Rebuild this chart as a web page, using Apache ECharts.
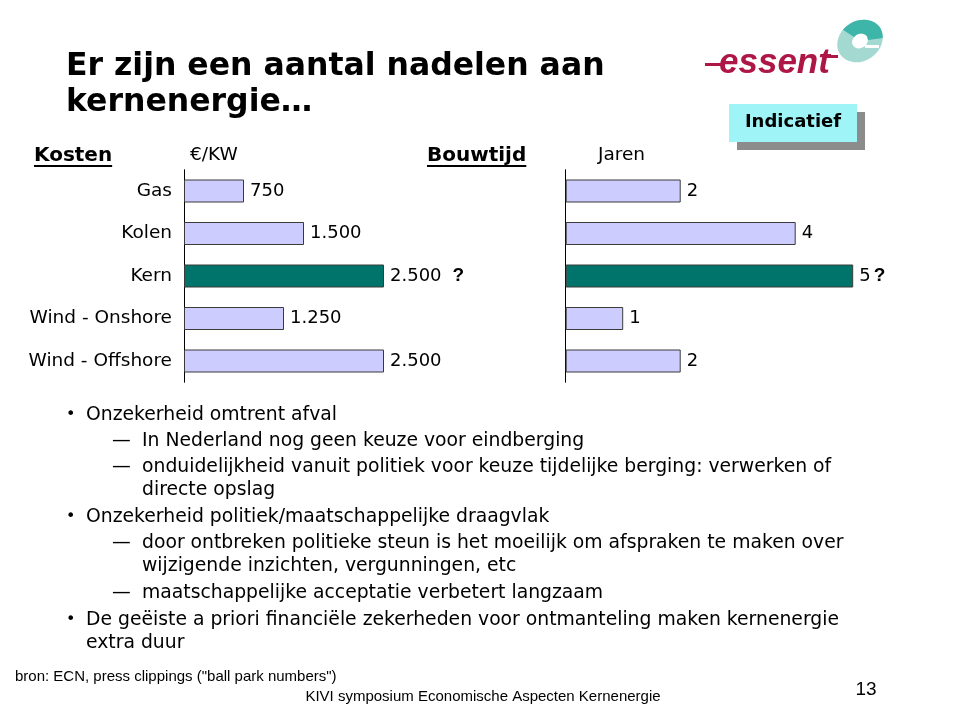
<!DOCTYPE html>
<html>
<head>
<meta charset="utf-8">
<script src="https://cdn.jsdelivr.net/npm/echarts@6/dist/echarts.min.js"></script>
<style>
html,body{margin:0;padding:0;background:#fff;}
#chart{width:960px;height:722px;}
</style>
</head>
<body>
<div id="chart"></div>
<script>
// ---- data ----
var categories = ['Gas', 'Kolen', 'Kern', 'Wind - Onshore', 'Wind - Offshore'];
var costValues = [750, 1500, 2500, 1250, 2500];      // €/KW
var buildYears = [2, 4, 5, 1, 2];                    // Jaren
var uncertain = [false, false, true, false, false];  // shown with "?"
var titleLines = ['Er zijn een aantal nadelen aan', 'kernenergie…'];
var costHeader = 'Kosten', costUnit = '€/KW';
var timeHeader = 'Bouwtijd', timeUnit = 'Jaren';
var badgeText = 'Indicatief';
var bodyLines = [
  ['bullet', 'Onzekerheid omtrent afval'],
  ['dash', 'In Nederland nog geen keuze voor eindberging'],
  ['dash', 'onduidelijkheid vanuit politiek voor keuze tijdelijke berging: verwerken of'],
  ['dash-cont', 'directe opslag'],
  ['bullet', 'Onzekerheid politiek/maatschappelijke draagvlak'],
  ['dash', 'door ontbreken politieke steun is het moeilijk om afspraken te maken over'],
  ['dash-cont', 'wijzigende inzichten, vergunningen, etc'],
  ['dash', 'maatschappelijke acceptatie verbetert langzaam'],
  ['bullet', 'De geëiste a priori financiële zekerheden voor ontmanteling maken kernenergie'],
  ['bullet-cont', 'extra duur']
];
var sourceText = 'bron: ECN, press clippings ("ball park numbers")';
var footerText = 'KIVI symposium Economische Aspecten Kernenergie';
var pageNumber = '13';

// ---- layout / style ----
var lineY = [415, 441, 467, 490, 517, 543, 566, 593, 620, 643];
var FONT = 'DejaVu Sans';
var LAV = '#CCCCFF', TEAL = '#00736A', EDGE = '#3a3a3a';

function fmt(v) { return String(v).replace(/\B(?=(\d{3})+(?!\d))/g, '.'); }
function measure(text, font) {
  var c = document.createElement('canvas').getContext('2d');
  c.font = font; return c.measureText(text).width;
}

function barData(vals) {
  return vals.map(function (v, i) {
    return { value: v, itemStyle: { color: categories[i] === 'Kern' ? TEAL : LAV } };
  });
}
function labelOpt(qPad) {
  return {
    show: true, position: 'right', distance: 6,
    formatter: function (p) {
      var s = '{v|' + fmt(p.value) + '}';
      if (uncertain[p.dataIndex]) s += '{q|?}';
      return s;
    },
    rich: {
      v: { fontSize: 18, fontFamily: FONT, color: '#000' },
      q: { fontSize: 19, fontFamily: 'Liberation Sans', fontWeight: 'bold', color: '#000', padding: [0, 0, 0, qPad] }
    }
  };
}

var graphics = [];
function txt(x, y, text, opts) {
  opts = opts || {};
  graphics.push({
    type: 'text', x: x, y: y, silent: true,
    style: {
      text: text, fill: opts.fill || '#000',
      fontSize: opts.size || 18, fontFamily: opts.family || FONT,
      fontWeight: opts.weight || 'normal', fontStyle: opts.style || 'normal',
      align: opts.align || 'left', verticalAlign: 'middle'
    }
  });
}

// title
txt(66, 67, titleLines[0], { size: 31.5, weight: 'bold' });
txt(66, 103, titleLines[1], { size: 31.5, weight: 'bold' });

// headers with underline
txt(34, 156, costHeader, { size: 20, weight: 'bold' });
graphics.push({ type: 'rect', silent: true, shape: { x: 34, y: 165, width: measure(costHeader, 'bold 20px ' + FONT), height: 2 }, style: { fill: '#000' } });
txt(190, 155, costUnit, { size: 18.5 });
txt(427, 156, timeHeader, { size: 20, weight: 'bold' });
graphics.push({ type: 'rect', silent: true, shape: { x: 427, y: 165, width: measure(timeHeader, 'bold 20px ' + FONT), height: 2 }, style: { fill: '#000' } });
txt(598, 155, timeUnit, { size: 18.5 });

// badge
graphics.push({ type: 'rect', silent: true, shape: { x: 737, y: 112, width: 128, height: 38 }, style: { fill: '#8C8C8C' } });
graphics.push({ type: 'rect', silent: true, shape: { x: 729, y: 104, width: 128, height: 38 }, style: { fill: '#9FF4F8' } });
txt(793, 122, badgeText, { size: 18, weight: 'bold', align: 'center' });

// logo
graphics.push({
  type: 'group', x: 860, y: 41, rotation: 0.6, scaleX: 1.2, scaleY: 1, silent: true,
  children: [
    { type: 'sector', shape: { cx: 0, cy: 0, r: 20, r0: 7, startAngle: 0, endAngle: Math.PI * 2 }, style: { fill: '#A3D9D0' } },
    { type: 'sector', shape: { cx: 0, cy: 0, r: 20, r0: 7, startAngle: -1.9, endAngle: 0.55 }, style: { fill: '#3DB5A9' } }
  ]
});
graphics.push({ type: 'rect', silent: true, shape: { x: 865, y: 45, width: 14, height: 3 }, style: { fill: '#fff' } });
graphics.push({ type: 'rect', silent: true, shape: { x: 705, y: 63, width: 16, height: 3 }, style: { fill: '#AD1645' } });
txt(719, 63, 'essent', { size: 35, weight: 'bold', style: 'italic', family: 'Liberation Sans', fill: '#AD1645' });
graphics.push({ type: 'rect', silent: true, shape: { x: 826, y: 55, width: 12, height: 3 }, style: { fill: '#AD1645' } });

// body text
bodyLines.forEach(function (ln, i) {
  var y = lineY[i], kind = ln[0], S = 18.8;
  if (kind === 'bullet') { txt(66, y, '•', { size: 16 }); txt(86, y, ln[1], { size: S }); }
  else if (kind === 'bullet-cont') { txt(86, y, ln[1], { size: S }); }
  else if (kind === 'dash') { txt(112, y, '—', { size: S }); txt(142, y, ln[1], { size: S }); }
  else { txt(142, y, ln[1], { size: S }); }
});

// footer
txt(15, 677, sourceText, { size: 15, family: 'Liberation Sans' });
txt(483, 697, footerText, { size: 15, family: 'Liberation Sans', align: 'center' });
txt(866, 690, pageNumber, { size: 19, family: 'Liberation Sans', align: 'center' });

var chart = echarts.init(document.getElementById('chart'), null, { renderer: 'canvas' });
chart.setOption({
  animation: false,
  backgroundColor: '#fff',
  grid: [
    { left: 184, top: 169.75, width: 240, height: 212.5 },
    { left: 565.7, top: 169.75, width: 345, height: 212.5 }
  ],
  xAxis: [
    { gridIndex: 0, type: 'value', min: 0, max: 3000, show: false },
    { gridIndex: 1, type: 'value', min: 0, max: 6, show: false }
  ],
  yAxis: [
    { gridIndex: 0, type: 'category', data: categories, inverse: true,
      axisLine: { show: true, lineStyle: { color: '#000', width: 1 } }, axisTick: { show: false },
      axisLabel: { color: '#000', fontSize: 18.5, fontFamily: FONT, margin: 12 }, splitLine: { show: false } },
    { gridIndex: 1, type: 'category', data: categories, inverse: true,
      axisLine: { show: true, lineStyle: { color: '#000', width: 1 } }, axisTick: { show: false },
      axisLabel: { show: false }, splitLine: { show: false } }
  ],
  series: [
    { type: 'bar', xAxisIndex: 0, yAxisIndex: 0, barWidth: 23, data: barData(costValues),
      itemStyle: { borderColor: EDGE, borderWidth: 1 }, label: labelOpt(11) },
    { type: 'bar', xAxisIndex: 1, yAxisIndex: 1, barWidth: 23, data: barData(buildYears),
      itemStyle: { borderColor: EDGE, borderWidth: 1 }, label: labelOpt(3) }
  ],
  graphic: graphics
});
</script>
</body>
</html>
